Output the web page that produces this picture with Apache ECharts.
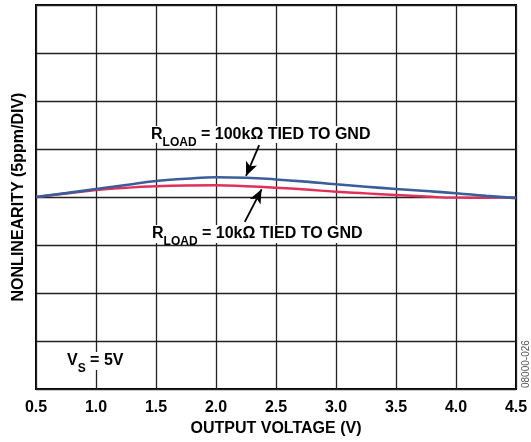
<!DOCTYPE html>
<html><head><meta charset="utf-8">
<script src="https://cdn.jsdelivr.net/npm/echarts@6/dist/echarts.min.js"></script>
<style>html,body{margin:0;padding:0;background:#fff}#c{width:531px;height:442px}</style>
</head><body><div id="c"></div>
<script>
const xValues = [0.5,0.75,1.0,1.25,1.5,1.75,2.0,2.25,2.5,2.75,3.0,3.25,3.5,3.75,4.0,4.25,4.5];
const blue100k = [0.0,0.4,0.83,1.25,1.67,1.9,2.05,2.0,1.83,1.6,1.32,1.07,0.83,0.62,0.39,0.12,-0.12];
const red10k  = [0.0,0.36,0.73,0.96,1.12,1.2,1.22,1.12,0.97,0.78,0.55,0.38,0.21,0.05,-0.07,-0.08,-0.04];
const xTicks = {min:0.5, max:4.5, step:0.5};
const yTicks = {min:-20, max:20, step:5};
const arrowUpper = [[2.36,5.4],[2.25,2.2]];
const arrowLower = [[2.24,-2.6],[2.38,0.8]];

const font = 'Liberation Sans, Arial, sans-serif';
const chart = echarts.init(document.getElementById('c'));
const pair = (xs, ys) => xs.map((x,i)=>[x, ys[i]]);
const arrow = (a) => [{coord:a[0], symbol:'none'}, {coord:a[1], symbol:'arrow'}];
const rich = {
  r:{fontFamily:font,fontWeight:'bold',fontSize:16,fill:'#000',verticalAlign:'bottom'},
  s:{fontFamily:font,fontWeight:'bold',fontSize:12,fill:'#000',padding:[0,0,-6,0],verticalAlign:'bottom'}
};

chart.setOption({
  animation:false,
  grid:{left:36,right:15,top:5,bottom:53,containLabel:false,outerBoundsMode:'none',
    show:true,borderColor:'#000',borderWidth:2,backgroundColor:'transparent'},
  xAxis:{type:'value',min:xTicks.min,max:xTicks.max,interval:xTicks.step,
    axisLine:{show:false},axisTick:{show:false},
    splitLine:{show:true,lineStyle:{color:'#222',width:1.3}},
    axisLabel:{formatter:v=>v.toFixed(1),color:'#000',fontFamily:font,fontWeight:'bold',fontSize:16,margin:11},
    name:'OUTPUT VOLTAGE (V)',nameLocation:'middle',nameGap:31,
    nameTextStyle:{color:'#000',fontFamily:font,fontWeight:'bold',fontSize:16}},
  yAxis:{type:'value',min:yTicks.min,max:yTicks.max,interval:yTicks.step,
    axisLine:{show:false},axisTick:{show:false},axisLabel:{show:false},
    splitLine:{show:true,lineStyle:{color:'#222',width:1.3}},
    name:'NONLINEARITY (5ppm/DIV)',nameLocation:'middle',nameGap:9,nameRotate:90,
    nameTextStyle:{color:'#000',fontFamily:font,fontWeight:'bold',fontSize:16}},
  series:[
    {type:'line',data:pair(xValues,blue100k),smooth:true,symbol:'none',
      lineStyle:{color:'#3b5e9b',width:2.6},z:3,
      markLine:{silent:true,symbolSize:[9,14],label:{show:false},
        lineStyle:{color:'#000',width:1.8,type:'solid'},
        data:[arrow(arrowUpper),arrow(arrowLower)]}},
    {type:'line',data:pair(xValues,red10k),smooth:true,symbol:'none',
      lineStyle:{color:'#e0305a',width:2.4},z:2}
  ],
  graphic:[
    {type:'text',left:148,top:126,z:1,style:{
      text:'{r|R}{s|LOAD}{r| = 100kΩ TIED TO GND}',backgroundColor:'#fff',padding:[1,3,0,3],rich:rich}},
    {type:'text',left:149,top:225,z:1,style:{
      text:'{r|R}{s|LOAD}{r| = 10kΩ TIED TO GND}',backgroundColor:'#fff',padding:[1,3],rich:rich}},
    {type:'text',left:64,top:352,z:1,style:{
      text:'{r|V}{s|S}{r| = 5V}',backgroundColor:'#fff',padding:[1,3],rich:rich}},
    {type:'text',x:521,y:388,rotation:Math.PI/2,z:10,style:{
      text:'08000-026',fontFamily:font,fontSize:10,fill:'#555'}}
  ]
});
</script></body></html>
